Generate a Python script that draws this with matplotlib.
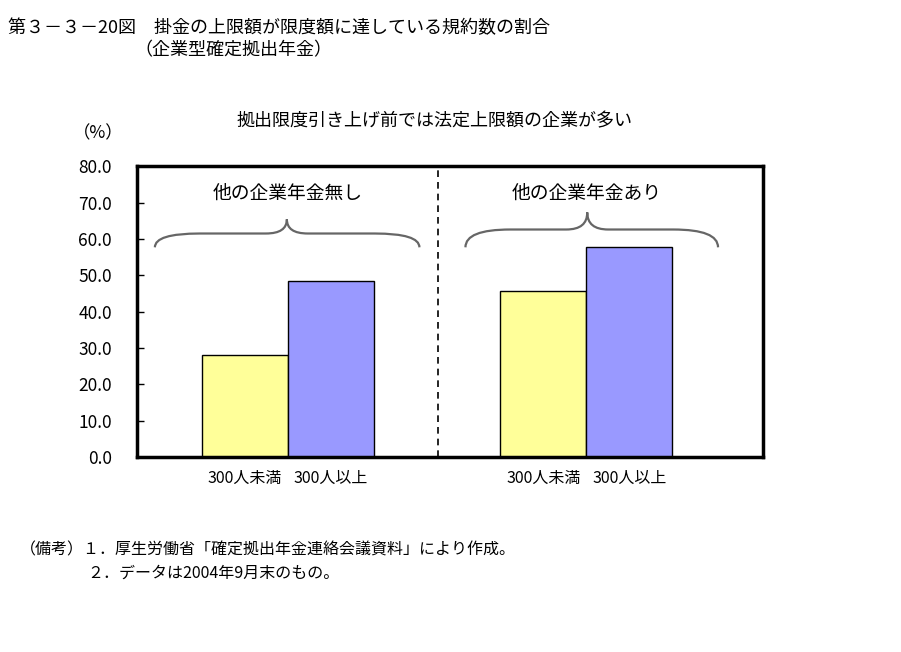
import matplotlib
matplotlib.use("Agg")
import matplotlib.pyplot as plt
from matplotlib.path import Path
from matplotlib.patches import PathPatch
import numpy as np

plt.rcParams['font.family'] = ['Noto Sans CJK JP', 'DejaVu Sans']

# data
groups = ['他の企業年金無し', '他の企業年金あり']
sizes = ['300人未満', '300人以上']
small = [28.0, 45.6]    # 300人未満
large = [48.4, 57.7]    # 300人以上
yticks = [0, 10, 20, 30, 40, 50, 60, 70, 80]

fig = plt.figure(figsize=(9.01, 6.52), dpi=100)
ax = fig.add_axes([0.152, 0.299, 0.695, 0.446])

x = np.arange(len(groups))
w = 0.288
ax.bar(x - w / 2, small, w, color='#FFFF99', edgecolor='black', linewidth=1)
ax.bar(x + w / 2, large, w, color='#9999FF', edgecolor='black', linewidth=1)

ax.set_xlim(-0.505, 1.592)
ax.set_ylim(0, 80)
ax.set_yticks(yticks)
ax.set_yticklabels(['%.1f' % t for t in yticks], fontsize=12.5)
ax.tick_params(axis='y', direction='in', length=5, width=1, pad=18)
ax.set_xticks([])
for s in ax.spines.values():
    s.set_linewidth(2.5)

# separator
ax.axvline(0.502, color='black', linestyle=(0, (4, 3)), linewidth=1.2)


def brace(x0, x1, xm, yend, yflat, ypeak):
    r = 0.15
    rm = 0.07
    verts = [(x0, yend), (x0, yflat), (x0 + r, yflat),
             (xm - rm, yflat), (xm, yflat), (xm, ypeak),
             (xm, yflat), (xm + rm, yflat),
             (x1 - r, yflat), (x1, yflat), (x1, yend)]
    codes = [Path.MOVETO, Path.CURVE3, Path.CURVE3,
             Path.LINETO, Path.CURVE3, Path.CURVE3,
             Path.CURVE3, Path.CURVE3,
             Path.LINETO, Path.CURVE3, Path.CURVE3]
    ax.add_patch(PathPatch(Path(verts, codes), fill=False,
                           edgecolor='#666666', linewidth=1.6))


brace(-0.445, 0.441, -0.003, 57.7, 61.5, 65.4)
brace(0.595, 1.441, 1.003, 57.7, 62.6, 67.3)

for i, g in enumerate(groups):
    ax.text(x[i], 72.5, g, ha='center', va='center', fontsize=13.5)
    for j, s in enumerate(sizes):
        ax.text(x[i] + (j - 0.5) * w, -6, s, ha='center', va='center', fontsize=11.5)

fig.text(435 / 901, 1 - 121 / 652, '拠出限度引き上げ前では法定上限額の企業が多い',
         ha='center', va='center', fontsize=13)
fig.text(98 / 901, 1 - 133 / 652, '（%）', ha='center', va='center', fontsize=12.5)

fig.text(8 / 901, 1 - 28 / 652, '第３－３－20図　掛金の上限額が限度額に達している規約数の割合',
         ha='left', va='center', fontsize=13)
fig.text(134 / 901, 1 - 50 / 652, '（企業型確定拠出年金）', ha='left', va='center', fontsize=13)

fig.text(20 / 901, 1 - 550 / 652, '（備考）１．厚生労働省「確定拠出年金連絡会議資料」により作成。',
         ha='left', va='center', fontsize=11.5)
fig.text(87 / 901, 1 - 573 / 652, '２．データは2004年9月末のもの。',
         ha='left', va='center', fontsize=11.5)

fig.savefig('out.png', dpi=100)
